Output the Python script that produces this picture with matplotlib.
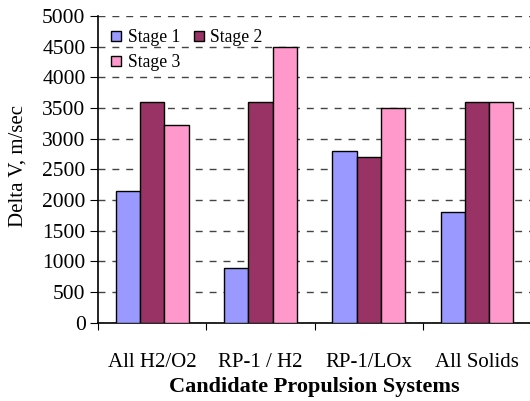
import numpy as np
import matplotlib
matplotlib.use('Agg')
import matplotlib.pyplot as plt

plt.rcParams['font.family'] = ['Liberation Serif', 'DejaVu Serif']

systems = ['All H2/O2', 'RP-1 / H2', 'RP-1/LOx', 'All Solids']
stage1 = [2150, 900, 2800, 1800]
stage2 = [3600, 3600, 2700, 3600]
stage3 = [3230, 4500, 3500, 3600]
series = [('Stage 1', stage1, '#9999FF'),
          ('Stage 2', stage2, '#993366'),
          ('Stage 3', stage3, '#FF99CC')]

fig = plt.figure(figsize=(5.30, 4.01), dpi=100)
ax = fig.add_axes([0.185, 0.195, 0.817, 0.765])

x = np.arange(len(systems))
w = 0.224
bars = []
for i, (name, vals, col) in enumerate(series):
    b = ax.bar(x + (i - 1) * w, vals, w, color=col, edgecolor='black',
               linewidth=1.0, label=name, zorder=3)
    bars.append(b)

ax.set_xlim(-0.5, len(systems) - 0.5)
ax.set_ylim(0, 5000)
ax.set_yticks(np.arange(0, 5001, 500))
ax.yaxis.grid(True, linestyle=(0, (5, 5)), color='#444444', linewidth=1.0, zorder=0)

# ticks at category boundaries, labels at centres
ax.set_xticks(np.arange(-0.5, len(systems) - 0.4, 1.0))
ax.set_xticklabels([])
ax.set_xticks(x, minor=True)
ax.set_xticklabels(systems, minor=True, fontsize=15)
ax.tick_params(axis='x', which='major', length=5, direction='out')
ax.tick_params(axis='x', which='minor', length=0, pad=22)
ax.tick_params(axis='y', length=6, direction='out', labelsize=15.5, pad=3)

for s in ['top', 'right']:
    ax.spines[s].set_visible(False)
for s in ['left', 'bottom']:
    ax.spines[s].set_linewidth(1.2)

ax.set_ylabel('Delta V, m/sec', fontsize=15)
ax.yaxis.set_label_coords(-0.162, 0.51)
ax.set_xlabel('Candidate Propulsion Systems', fontsize=16, fontweight='bold', labelpad=3.5)

# row-wise order like the original: Stage 1, Stage 2 / Stage 3
ax.legend([bars[0], bars[2], bars[1]], ['Stage 1', 'Stage 3', 'Stage 2'],
          loc='upper left', ncol=2, frameon=False, fontsize=12.7,
          handlelength=0.57, handleheight=0.57, handletextpad=0.35,
          columnspacing=0.8, labelspacing=0.45,
          bbox_to_anchor=(0.0, 1.0), borderaxespad=0.35)

fig.savefig('out.png', dpi=100)
